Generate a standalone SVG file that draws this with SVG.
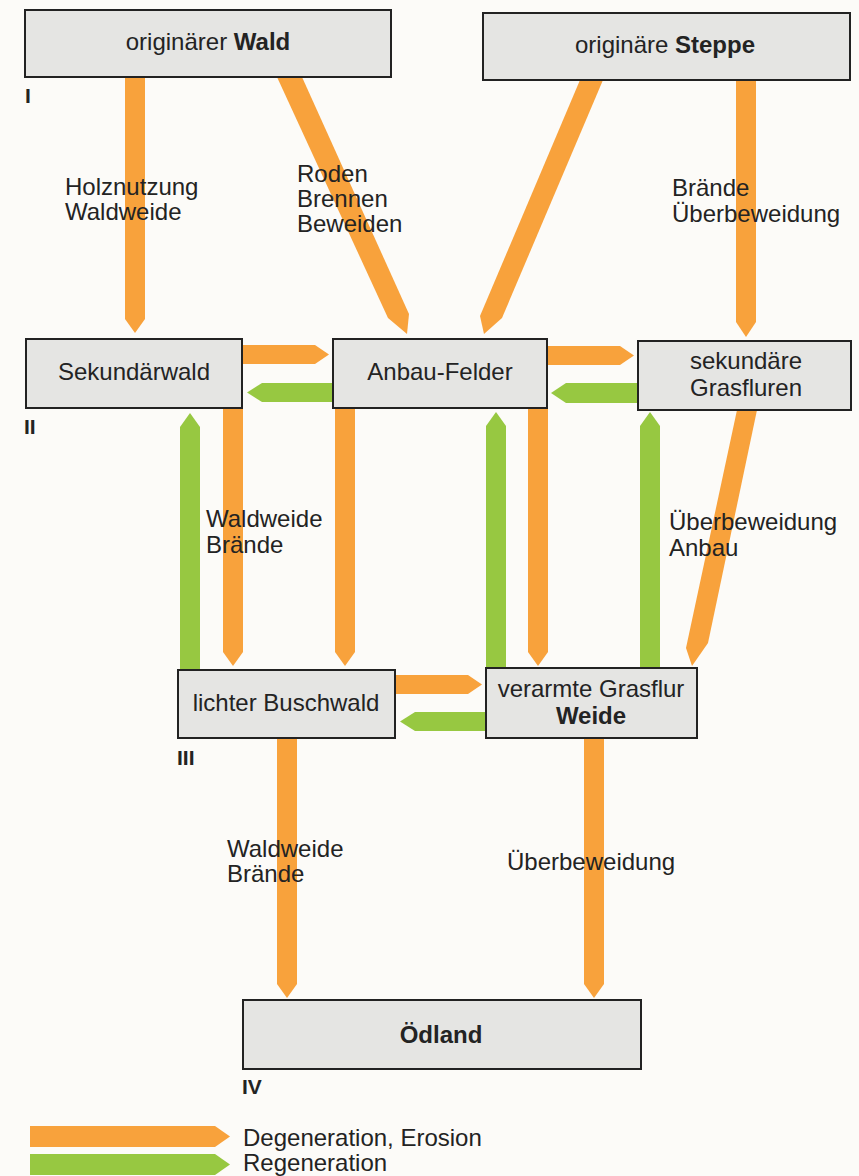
<svg xmlns="http://www.w3.org/2000/svg" width="859" height="1176" viewBox="0 0 859 1176">
<style>
.bg{fill:#fcfbf8}
.box{fill:#e5e5e3;stroke:#222;stroke-width:2}
.t{font-family:"Liberation Sans",Arial,sans-serif;font-size:24px;fill:#232323}
.b{font-weight:bold}
.num{font-family:"Liberation Sans",Arial,sans-serif;font-size:21px;font-weight:bold;fill:#232323}
.o{fill:#f8a23c}
.g{fill:#97c841}
.mid{text-anchor:middle}
</style>
<rect class="bg" x="0" y="0" width="859" height="1176"/>

<g id="connectors">
  <!-- Wald -> Sekundärwald -->
  <polygon class="o" points="125,77 145,77 145,319 135,333 125,319"/>
  <!-- Wald -> Anbau-Felder -->
  <polygon class="o" points="277,77 302,77 409,314 407,334 388,318"/>
  <!-- Steppe -> Anbau-Felder -->
  <polygon class="o" points="580,80 603,80 502,318 484,334 480,316"/>
  <!-- Steppe -> sekundäre Grasfluren -->
  <polygon class="o" points="736,80 756,80 756,322 746,337 736,322"/>
  <!-- Sekundärwald -> Anbau -->
  <polygon class="o" points="242,345 315,345 329,354.5 315,364 242,364"/>
  <!-- Anbau -> Sekundärwald -->
  <polygon class="g" points="333,383 262,383 247,392.5 262,402 333,402"/>
  <!-- Anbau -> Grasfluren -->
  <polygon class="o" points="547,346 620,346 634,355.5 620,365 547,365"/>
  <!-- Grasfluren -> Anbau -->
  <polygon class="g" points="638,383 566,383 551,393 566,403 638,403"/>
  <!-- lichter Buschwald -> Sekundärwald -->
  <polygon class="g" points="190,413 200,427 200,670 180,670 180,427"/>
  <!-- Sekundärwald -> lichter Buschwald -->
  <polygon class="o" points="223,408 243,408 243,652 233,666 223,652"/>
  <!-- Anbau -> lichter Buschwald -->
  <polygon class="o" points="335,408 355,408 355,652 345,666 335,652"/>
  <!-- verarmte Grasflur -> Anbau -->
  <polygon class="g" points="496,412 506,426 506,668 486,668 486,426"/>
  <!-- Anbau -> verarmte Grasflur -->
  <polygon class="o" points="528,408 548,408 548,652 538,666 528,652"/>
  <!-- verarmte Grasflur -> Grasfluren -->
  <polygon class="g" points="650,412 660,426 660,668 640,668 640,426"/>
  <!-- Grasfluren -> verarmte Grasflur -->
  <polygon class="o" points="737,410 757,410 708,643 692,666 686,648"/>
  <!-- lichter Buschwald -> verarmte -->
  <polygon class="o" points="395,675 468,675 482,684.5 468,694 395,694"/>
  <!-- verarmte -> lichter Buschwald -->
  <polygon class="g" points="486,712 415,712 400,721.5 415,731 486,731"/>
  <!-- lichter Buschwald -> Ödland -->
  <polygon class="o" points="277,738 297,738 297,984 287,998 277,984"/>
  <!-- verarmte -> Ödland -->
  <polygon class="o" points="584,738 604,738 604,984 594,998 584,984"/>

  <!-- labels -->
  <text class="t" x="65" y="195">Holznutzung</text>
  <text class="t" x="65" y="220">Waldweide</text>
  <text class="t" x="297" y="182">Roden</text>
  <text class="t" x="297" y="207">Brennen</text>
  <text class="t" x="297" y="232">Beweiden</text>
  <text class="t" x="672" y="196">Brände</text>
  <text class="t" x="672" y="222">Überbeweidung</text>
  <text class="t" x="206" y="527">Waldweide</text>
  <text class="t" x="206" y="553">Brände</text>
  <text class="t" x="669" y="530">Überbeweidung</text>
  <text class="t" x="669" y="556">Anbau</text>
  <text class="t" x="227" y="857">Waldweide</text>
  <text class="t" x="227" y="882">Brände</text>
  <text class="t" x="507" y="870">Überbeweidung</text>
</g>

<g id="node-wald">
  <rect class="box" x="25" y="10" width="366" height="67"/>
  <text class="t mid" x="208" y="50">originärer <tspan class="b">Wald</tspan></text>
  <text class="num" x="25" y="103">I</text>
</g>
<g id="node-steppe">
  <rect class="box" x="483" y="13" width="367" height="67"/>
  <text class="t mid" x="665" y="53">originäre <tspan class="b">Steppe</tspan></text>
</g>
<g id="node-sekundaerwald">
  <rect class="box" x="26" y="339" width="216" height="69"/>
  <text class="t mid" x="134" y="380">Sekundärwald</text>
  <text class="num" x="24" y="434">II</text>
</g>
<g id="node-anbau">
  <rect class="box" x="333" y="339" width="214" height="69"/>
  <text class="t mid" x="440" y="380">Anbau-Felder</text>
</g>
<g id="node-grasfluren">
  <rect class="box" x="638" y="341" width="213" height="69"/>
  <text class="t mid" x="746" y="369">sekundäre</text>
  <text class="t mid" x="746" y="396">Grasfluren</text>
</g>
<g id="node-buschwald">
  <rect class="box" x="178" y="670" width="217" height="68"/>
  <text class="t mid" x="286" y="711">lichter Buschwald</text>
  <text class="num" x="177" y="765">III</text>
</g>
<g id="node-weide">
  <rect class="box" x="486" y="668" width="211" height="70"/>
  <text class="t mid" x="591" y="697">verarmte Grasflur</text>
  <text class="t mid b" x="591" y="724">Weide</text>
</g>
<g id="node-oedland">
  <rect class="box" x="243" y="1000" width="398" height="69"/>
  <text class="t mid b" x="441" y="1043">Ödland</text>
  <text class="num" x="242" y="1094">IV</text>
</g>

<g id="legend">
  <polygon class="o" points="30,1126 215,1126 230,1136.5 215,1147 30,1147"/>
  <polygon class="g" points="30,1154 215,1154 230,1164.5 215,1175 30,1175"/>
  <text class="t" x="243" y="1146">Degeneration, Erosion</text>
  <text class="t" x="243" y="1171">Regeneration</text>
</g>
</svg>
